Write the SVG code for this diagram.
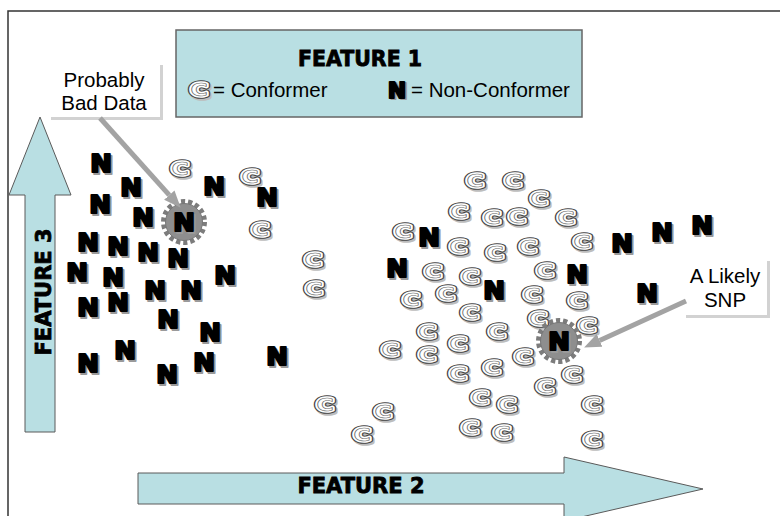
<svg xmlns="http://www.w3.org/2000/svg" xmlns:xlink="http://www.w3.org/1999/xlink" width="780" height="516" viewBox="0 0 780 516">
<style>
.bigfill{fill:#B9DFE3;stroke:#5a5a5a;stroke-width:1}
.feat{font-family:"DejaVu Sans",sans-serif;font-weight:bold;fill:#000;stroke:#000;stroke-width:0.8;text-anchor:middle}
.lbl{font-family:"Liberation Sans",Arial,sans-serif;font-size:20.5px;fill:#000}
.mid{text-anchor:middle}
.n{font-family:"DejaVu Sans",sans-serif;font-weight:bold;font-size:24px;text-anchor:middle;stroke-linejoin:round}
.c{font-family:"DejaVu Sans",sans-serif;font-weight:bold;font-size:17px;text-anchor:middle;stroke-linejoin:round}
.call{stroke:#a3a3a3;stroke-width:5;fill:none}
</style>
<defs>
<g id="gN" transform="scale(1.08,1)">
<text class="n" x="1.8" y="11" fill="#9a9a9a" stroke="#9a9a9a" stroke-width="2.2">N</text>
<text class="n" x="0" y="9" fill="#000" stroke="#000" stroke-width="2.2">N</text>
</g>
<g id="gC" transform="scale(1.38,1)">
<text class="c" x="1.1" y="7.8" fill="#bdbdbd" stroke="#bdbdbd" stroke-width="5.6">C</text>
<text class="c" x="0" y="6.2" fill="#fff" stroke="#444" stroke-width="5.6">C</text>
<text class="c" x="0" y="6.2" fill="#fff" stroke="#fff" stroke-width="3.6">C</text>
<text class="c" x="0" y="6.2" fill="#fff" stroke="#666" stroke-width="0.6">C</text>
</g>
<g id="gear">
<circle r="20.5" fill="none" stroke="#7c7c7c" stroke-width="5" stroke-dasharray="4.2 2.95"/>
<circle r="18.5" fill="#8e8e8e" stroke="#777" stroke-width="1"/>
</g>
<marker id="ah" markerUnits="userSpaceOnUse" markerWidth="18" markerHeight="16" refX="0" refY="7" orient="auto">
<path d="M0,0 L17,7 L0,14 z" fill="#a3a3a3"/>
</marker>
</defs>

<path d="M8,516 L8,11 L780,11" fill="none" stroke="#333" stroke-width="1.5"/>

<g id="feature1">
<rect x="176" y="30" width="406" height="87" fill="#B9DFE3" stroke="#666" stroke-width="1.5"/>
<text class="feat" x="360" y="66" font-size="20.5">FEATURE 1</text>
<use xlink:href="#gC" href="#gC" x="199" y="90"/>
<text class="lbl" x="213" y="97">= Conformer</text>
<use xlink:href="#gN" href="#gN" transform="translate(397,90) scale(0.85)"/>
<text class="lbl" x="411" y="97">= Non-Conformer</text>
</g>

<g id="feature3">
<polygon class="bigfill" points="25,432 25,195 9,195 40,117 71,195 55,195 55,432"/>
<text class="feat" transform="translate(51,292) rotate(-90)" font-size="21">FEATURE 3</text>
</g>

<g id="feature2">
<polygon class="bigfill" points="138,473 564,473 564,457 703,489 564,521 564,504 138,504"/>
<text class="feat" x="361" y="493" font-size="21">FEATURE 2</text>
</g>

<g id="conformers">
<use href="#gC" x="180" y="169"/><use href="#gC" x="250" y="177"/><use href="#gC" x="260" y="230"/>
<use href="#gC" x="313" y="260"/><use href="#gC" x="314" y="289"/>
<use href="#gC" x="475" y="181"/><use href="#gC" x="513" y="181"/><use href="#gC" x="539" y="199"/>
<use href="#gC" x="459" y="212"/><use href="#gC" x="492" y="218"/><use href="#gC" x="517" y="217"/>
<use href="#gC" x="566" y="218"/><use href="#gC" x="403" y="232"/><use href="#gC" x="458" y="247"/>
<use href="#gC" x="495" y="253"/><use href="#gC" x="528" y="247"/><use href="#gC" x="582" y="242"/>
<use href="#gC" x="433" y="272"/><use href="#gC" x="470" y="277"/><use href="#gC" x="545" y="271"/>
<use href="#gC" x="411" y="300"/><use href="#gC" x="446" y="294"/><use href="#gC" x="532" y="295"/>
<use href="#gC" x="577" y="301"/><use href="#gC" x="470" y="313"/><use href="#gC" x="538" y="319"/>
<use href="#gC" x="587" y="326"/><use href="#gC" x="427" y="332"/><use href="#gC" x="497" y="332"/>
<use href="#gC" x="458" y="344"/><use href="#gC" x="390" y="350"/><use href="#gC" x="427" y="355"/>
<use href="#gC" x="523" y="357"/><use href="#gC" x="458" y="374"/><use href="#gC" x="492" y="368"/>
<use href="#gC" x="572" y="375"/><use href="#gC" x="545" y="387"/><use href="#gC" x="480" y="398"/>
<use href="#gC" x="507" y="405"/><use href="#gC" x="592" y="405"/><use href="#gC" x="470" y="428"/>
<use href="#gC" x="502" y="433"/><use href="#gC" x="592" y="440"/><use href="#gC" x="325" y="405"/>
<use href="#gC" x="383" y="412"/><use href="#gC" x="362" y="435"/>
</g>

<g id="nonconformers">
<use href="#gN" x="101" y="163"/><use href="#gN" x="131" y="187"/><use href="#gN" x="100" y="204"/>
<use href="#gN" x="143" y="217"/><use href="#gN" x="214" y="186"/><use href="#gN" x="267" y="197"/>
<use href="#gN" x="88" y="242"/><use href="#gN" x="118" y="246"/><use href="#gN" x="148" y="252"/>
<use href="#gN" x="178" y="258"/><use href="#gN" x="77" y="272"/><use href="#gN" x="113" y="277"/>
<use href="#gN" x="155" y="290"/><use href="#gN" x="191" y="290"/><use href="#gN" x="225" y="275"/>
<use href="#gN" x="88" y="307"/><use href="#gN" x="118" y="302"/><use href="#gN" x="168" y="319"/>
<use href="#gN" x="210" y="332"/><use href="#gN" x="88" y="363"/><use href="#gN" x="125" y="350"/>
<use href="#gN" x="167" y="374"/><use href="#gN" x="204" y="362"/><use href="#gN" x="277" y="356"/>
<use href="#gN" x="429" y="237"/><use href="#gN" x="397" y="268"/><use href="#gN" x="494" y="290"/>
<use href="#gN" x="577" y="274"/><use href="#gN" x="622" y="243"/><use href="#gN" x="662" y="232"/>
<use href="#gN" x="702" y="225"/><use href="#gN" x="647" y="293"/>
</g>

<g id="bad-data-point">
<use href="#gear" x="184" y="222"/>
<use href="#gN" x="184" y="222"/>
</g>
<g id="snp-point">
<use href="#gear" x="559" y="341"/>
<use href="#gN" x="559" y="341"/>
</g>

<g id="callout-bad">
<rect x="51" y="65" width="112" height="55" fill="#d2d2d2"/>
<rect x="48" y="62" width="112" height="55" fill="#fff"/>
<text class="lbl mid" x="104" y="87">Probably</text>
<text class="lbl mid" x="104" y="110">Bad Data</text>
</g>

<g id="callout-snp">
<rect x="686" y="261" width="84" height="57" fill="#d2d2d2"/>
<rect x="683" y="258" width="84" height="57" fill="#fff"/>
<text class="lbl mid" x="725" y="283">A Likely</text>
<text class="lbl mid" x="725" y="307">SNP</text>
</g>

<g id="connectors">
<line class="call" x1="100" y1="118" x2="169.3" y2="195.1" marker-end="url(#ah)"/>
<line class="call" x1="686" y1="301" x2="599.6" y2="340.4" marker-end="url(#ah)"/>
</g>
</svg>
